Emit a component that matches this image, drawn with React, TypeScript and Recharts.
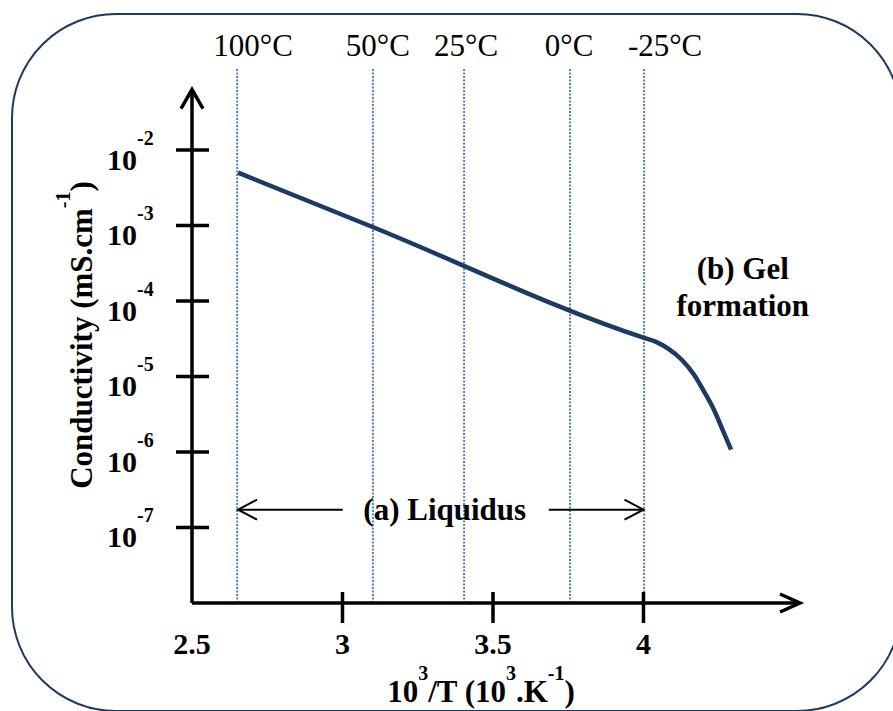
import React from 'react';
import { LineChart, Line, XAxis, YAxis, ReferenceLine, ReferenceDot } from 'recharts';

// 1000/T (10^3.K^-1) and log10 of conductivity (mS/cm)
const invTemp = [2.653, 3.1, 4.0, 4.038, 4.082, 4.127, 4.168, 4.201, 4.234, 4.265, 4.291];
const logCond = [-2.3, -3.02, -4.486, -4.535, -4.632, -4.778, -4.976, -5.197, -5.44, -5.727, -5.97];

// dotted temperature markers
const tempLabels = ['100°C', '50°C', '25°C', '0°C', '-25°C'];
const tempLines = [2.65, 3.101, 3.404, 3.756, 4.002];
const tempLabelShift = [16, 5, 2, -1, 21];

const xTicks = [2.5, 3, 3.5, 4];
const yTicks = [-7, -6, -5, -4, -3, -2];

const liquidusRange = [2.653, 4.0];
const liquidusLevel = -6.764;
const gelLabelAt = { x: 4.33, y: -3.6 };

const data = invTemp.map((x, i) => ({ x, y: logCond[i] }));

const SERIF = '"Liberation Serif", "Times New Roman", serif';
const NAVY = '#1c3a62';
const DOTS = '#4f81bd';

const XTick = ({ x, y, payload }: any) => (
  <g>
    {payload.value !== 2.5 && (
      <line x1={x} x2={x} y1={y - 11} y2={y + 20} stroke="#000" strokeWidth={3.5} />
    )}
    <text x={x} y={y + 51} textAnchor="middle" fontFamily={SERIF} fontWeight="bold" fontSize={30} fill="#000">
      {payload.value}
    </text>
  </g>
);

const YTick = ({ x, y, payload }: any) => (
  <g>
    <line x1={x - 16} x2={x + 17} y1={y} y2={y} stroke="#000" strokeWidth={3.5} />
    <text x={x - 85} y={y + 20} fontFamily={SERIF} fontWeight="bold" fontSize={30} fill="#000">
      10
      <tspan dy={-25} fontSize={20}>
        {payload.value}
      </tspan>
    </text>
  </g>
);

const XTitle = () => (
  <text x={481} y={702} textAnchor="middle" fontFamily={SERIF} fontWeight="bold" fontSize={31} fill="#000">
    10
    <tspan dy={-22} fontSize={20}>3</tspan>
    <tspan dy={22}>/T (10</tspan>
    <tspan dy={-22} fontSize={20}>3</tspan>
    <tspan dy={22}>.K</tspan>
    <tspan dy={-22} fontSize={20}>-1</tspan>
    <tspan dy={22}>)</tspan>
  </text>
);

const YTitle = () => (
  <text
    transform="rotate(-90)"
    x={-335}
    y={92}
    textAnchor="middle"
    fontFamily={SERIF}
    fontWeight="bold"
    fontSize={31}
    fill="#000"
  >
    Conductivity (mS.cm
    <tspan dy={-22} fontSize={20}>-1</tspan>
    <tspan dy={22}>)</tspan>
  </text>
);

const axisArrow = (horizontal: boolean) => (p: any) => {
  const { x1, y1, x2, y2 } = p;
  const head = horizontal
    ? `M${x2 - 20},${y2 - 9} L${x2},${y2} L${x2 - 20},${y2 + 9}`
    : `M${x2 - 11},${y2 + 19} L${x2},${y2} L${x2 + 11},${y2 + 19}`;
  return (
    <g>
      <line x1={x1} y1={y1} x2={x2} y2={y2} stroke="#000" strokeWidth={3.5} />
      <path d={head} fill="none" stroke="#000" strokeWidth={3.5} />
    </g>
  );
};

const LiquidusShape = (p: any) => {
  const { x1, x2, y1 } = p;
  const mid = (x1 + x2) / 2;
  return (
    <g>
      <line x1={x1} y1={y1} x2={mid - 98} y2={y1} stroke="#000" strokeWidth={2} />
      <path d={`M${x1 + 19},${y1 - 10} L${x1},${y1} L${x1 + 19},${y1 + 10}`} fill="none" stroke="#000" strokeWidth={2} />
      <text x={mid + 4} y={y1 + 10} textAnchor="middle" fontFamily={SERIF} fontWeight="bold" fontSize={31} fill="#000">
        (a) Liquidus
      </text>
      <line x1={mid + 108} y1={y1} x2={x2} y2={y1} stroke="#000" strokeWidth={2} />
      <path d={`M${x2 - 19},${y1 - 10} L${x2},${y1} L${x2 - 19},${y1 + 10}`} fill="none" stroke="#000" strokeWidth={2} />
    </g>
  );
};

const GelLabel = ({ cx, cy }: any) => (
  <g fontFamily={SERIF} fontWeight="bold" fontSize={31} fill="#000">
    <text x={cx} y={cy + 8} textAnchor="middle">(b) Gel</text>
    <text x={cx} y={cy + 45} textAnchor="middle">formation</text>
  </g>
);

export default function App() {
  return (
    <div style={{ position: 'absolute', left: 0, top: 0, width: 893, height: 711, overflow: 'hidden', background: '#fff' }}>
      <div
        style={{
          position: 'absolute',
          left: 11,
          top: 13,
          width: 891,
          height: 699,
          border: `2.5px solid ${NAVY}`,
          borderRadius: 105,
          boxSizing: 'border-box',
        }}
      />
      <div style={{ position: 'absolute', left: 0, top: 0 }}>
        <LineChart width={893} height={711} data={data} margin={{ top: 68, right: 93, bottom: 48, left: 0 }}>
          <XAxis
            type="number"
            dataKey="x"
            domain={[2.5, 4.52]}
            ticks={xTicks}
            axisLine={false}
            tickLine={false}
            tickSize={0}
            tickMargin={0}
            height={60}
            tick={<XTick />}
            interval={0}
            label={<XTitle />}
          />
          <YAxis
            type="number"
            domain={[-8, -0.914]}
            ticks={yTicks}
            axisLine={false}
            tickLine={false}
            tickSize={0}
            tickMargin={0}
            width={192}
            tick={<YTick />}
            interval={0}
            label={<YTitle />}
          />
          {tempLines.map((t, i) => (
            <ReferenceLine
              key={tempLabels[i]}
              x={t}
              stroke={DOTS}
              strokeWidth={2}
              strokeDasharray="2 1.5"
              label={{
                content: (p: any) => (
                  <text
                    x={p.viewBox.x + tempLabelShift[i]}
                    y={p.viewBox.y - 12}
                    textAnchor="middle"
                    fontFamily={SERIF}
                    fontSize={31}
                    fill="#000"
                  >
                    {tempLabels[i]}
                  </text>
                ),
              }}
            />
          ))}
          <ReferenceLine
            segment={[{ x: 2.5, y: -8 }, { x: 2.5, y: -1.2 }]}
            ifOverflow="visible"
            shape={axisArrow(false)}
          />
          <ReferenceLine
            segment={[{ x: 2.5, y: -8 }, { x: 4.52, y: -8 }]}
            ifOverflow="visible"
            shape={axisArrow(true)}
          />
          <ReferenceLine
            segment={[{ x: liquidusRange[0], y: liquidusLevel }, { x: liquidusRange[1], y: liquidusLevel }]}
            ifOverflow="visible"
            shape={LiquidusShape}
          />
          <ReferenceDot x={gelLabelAt.x} y={gelLabelAt.y} r={0} ifOverflow="visible" shape={GelLabel} />
          <Line
            type="monotone"
            dataKey="y"
            stroke={NAVY}
            strokeWidth={4.5}
            dot={false}
            isAnimationActive={false}
          />
        </LineChart>
      </div>
    </div>
  );
}
